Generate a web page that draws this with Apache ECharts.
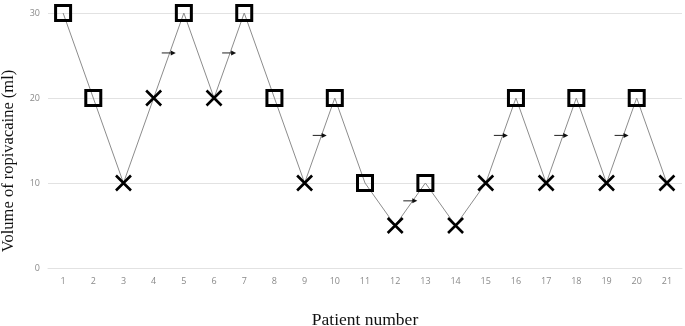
<!DOCTYPE html>
<html>
<head>
<meta charset="utf-8">
<script src="https://cdn.jsdelivr.net/npm/echarts@6/dist/echarts.min.js"></script>
<style>
  html, body { margin: 0; padding: 0; background: #fff; }
  #chart { width: 685px; height: 326px; }
</style>
</head>
<body>
<div id="chart"></div>
<script>
// patient numbers and the volume each one received
const patients = ['1','2','3','4','5','6','7','8','9','10','11','12','13','14','15','16','17','18','19','20','21']
const volumes = [30, 20, 10, 20, 30, 20, 30, 20, 10, 20, 10, 5, 10, 5, 10, 20, 10, 20, 10, 20, 10]
// S = effective block (square), F = failed block (cross)
const outcomes = ['S','S','F','F','S','F','S','S','F','S','S','F','S','F','F','S','F','S','F','S','F']
// small arrows: drawn between patient n and n+1, at this volume level
const arrowAfter = [4, 6, 9, 12, 15, 17, 19]
const arrowLevel = [25.3, 25.3, 15.6, 7.9, 15.6, 15.6, 15.6]
const yTicks = [0, 10, 20, 30]

const chart = echarts.init(document.getElementById('chart'))

const squares = volumes.map((v, i) => (outcomes[i] === 'S' ? v : '-'))
const crosses = volumes.map((v, i) => (outcomes[i] === 'F' ? v : '-'))
const arrows = arrowAfter.map((p, i) => [p - 1, arrowLevel[i]])

const option = {
  animation: false,
  grid: { left: 48, right: 3, top: 13, bottom: 58, outerBoundsMode: 'none', containLabel: false },
  xAxis: {
    type: 'category',
    data: patients,
    boundaryGap: true,
    name: 'Patient number',
    nameLocation: 'middle',
    nameGap: 43,
    nameTextStyle: { fontFamily: 'Liberation Serif', fontSize: 17.5, color: '#111' },
    axisLine: { show: true, lineStyle: { color: '#e2e2e2' } },
    axisTick: { show: false },
    axisLabel: { color: '#8a8a8a', fontSize: 9, fontFamily: 'Open Sans', margin: 9 },
  },
  yAxis: {
    type: 'value',
    min: yTicks[0],
    max: yTicks[yTicks.length - 1],
    interval: 10,
    name: 'Volume of ropivacaine (ml)',
    nameLocation: 'middle',
    nameGap: 31,
    nameTextStyle: { fontFamily: 'Liberation Serif', fontSize: 16.5, color: '#111', padding: [0, 41, 0, 0] },
    axisLine: { show: false },
    axisTick: { show: false },
    axisLabel: { color: '#8a8a8a', fontSize: 9, fontFamily: 'Open Sans', margin: 8 },
    splitLine: { lineStyle: { color: '#e2e2e2' } },
  },
  series: [
    {
      type: 'line',
      data: volumes,
      showSymbol: false,
      lineStyle: { color: '#8c8c8c', width: 1 },
      z: 2,
    },
    {
      type: 'scatter',
      data: squares,
      symbol: 'rect',
      symbolSize: 15,
      itemStyle: { color: 'rgba(0,0,0,0)', borderColor: '#000', borderWidth: 3, opacity: 1 },
      z: 3,
    },
    {
      type: 'scatter',
      data: crosses,
      symbol: 'path://M0,0L10,10M10,0L0,10',
      symbolSize: 15,
      itemStyle: { color: 'rgba(0,0,0,0)', borderColor: '#000', borderWidth: 2.6, opacity: 1 },
      z: 3,
    },
    {
      type: 'custom',
      data: arrows,
      z: 4,
      renderItem(params, api) {
        const p = api.coord([api.value(0), api.value(1)])
        const half = api.size([1, 0])[0] / 2
        const cx = p[0] + half
        const y = p[1]
        const x0 = cx - 7
        const x1 = cx + 7
        return {
          type: 'group',
          children: [
            { type: 'line', shape: { x1: x0, y1: y, x2: x1 - 4, y2: y }, style: { stroke: '#222', lineWidth: 1 } },
            { type: 'polygon', shape: { points: [[x1, y], [x1 - 5, y - 2.5], [x1 - 5, y + 2.5]] }, style: { fill: '#111' } },
          ],
        }
      },
    },
  ],
}

chart.setOption(option)
</script>
</body>
</html>
